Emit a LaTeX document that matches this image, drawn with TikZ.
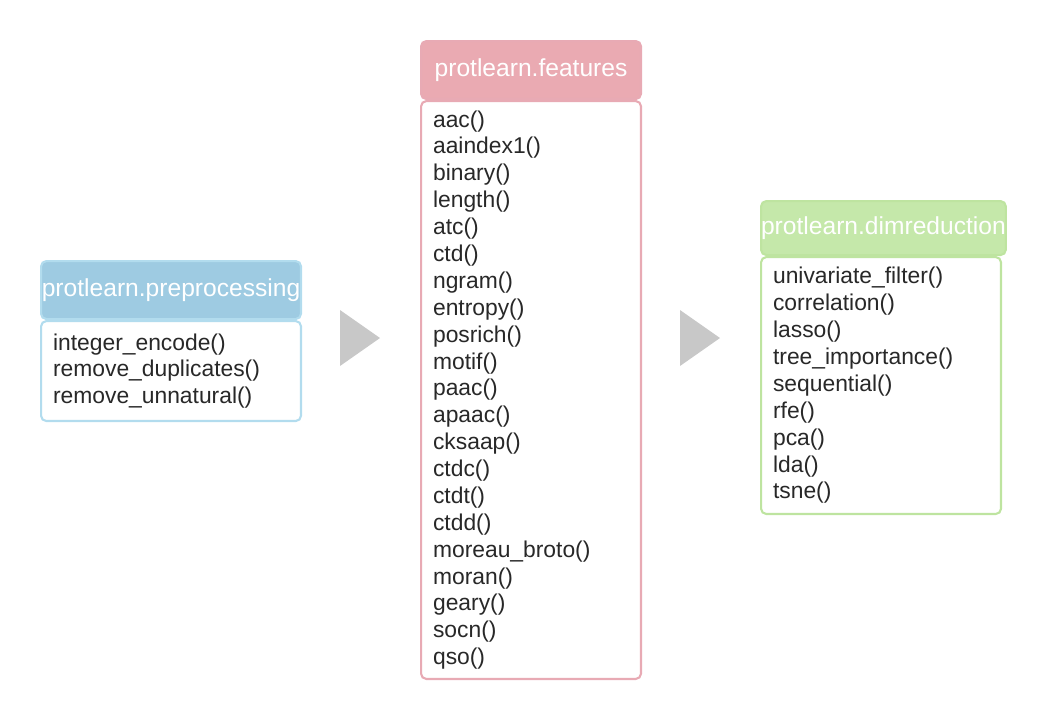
\documentclass[tikz,border=0pt]{standalone}
\usepackage{fontspec}
\setmainfont{Liberation Sans}
\usetikzlibrary{positioning}
\definecolor{bluehead}{RGB}{158,203,226}
\definecolor{blueline}{RGB}{178,220,238}
\definecolor{redhead}{RGB}{234,170,178}
\definecolor{redline}{RGB}{232,170,180}
\definecolor{greenhead}{RGB}{197,232,170}
\definecolor{greenline}{RGB}{190,228,160}
\definecolor{txt}{RGB}{40,40,40}
\definecolor{arr}{RGB}{200,200,200}
\tikzset{
  head/.style={rectangle, rounded corners=3pt, line width=1.2pt, text=white, font=\fontsize{14}{16}\selectfont, inner sep=0pt, anchor=north west},
  body/.style={rectangle, rounded corners=3pt, line width=1.2pt, fill=white, text=txt, font=\fontsize{13}{15.3}\selectfont, align=left, inner xsep=0.24cm, inner ysep=0pt, anchor=north west},
  flowtip/.style={fill=arr, draw=none}
}
\begin{document}
\begin{tikzpicture}[x=0.02cm, y=-0.02cm]
\useasboundingbox (0,0) rectangle (1040,718);

% preprocessing
\node[head, fill=bluehead, draw=blueline, minimum width=5.2cm, minimum height=1.16cm] (prehead) at (40,260) {protlearn.preprocessing};
\node[body, draw=blueline, text width=4.72cm, minimum height=2cm] (prebody) at (40,320)
  {integer\_encode()\\remove\_duplicates()\\remove\_unnatural()};

% features
\node[head, fill=redhead, draw=redline, minimum width=4.4cm, minimum height=1.16cm] (feahead) at (420,40) {protlearn.features};
\node[body, draw=redline, text width=3.92cm, minimum height=11.56cm] (feabody) at (420,100)
  {aac()\\aaindex1()\\binary()\\length()\\atc()\\ctd()\\ngram()\\entropy()\\posrich()\\motif()\\paac()\\apaac()\\cksaap()\\ctdc()\\ctdt()\\ctdd()\\moreau\_broto()\\moran()\\geary()\\socn()\\qso()};

% dimreduction
\node[head, fill=greenhead, draw=greenline, minimum width=4.8cm, minimum height=1.08cm] (dimhead) at (760,200) {protlearn.dimreduction};
\node[body, draw=greenline, text width=4.32cm, minimum height=5.14cm] (dimbody) at (760,256)
  {univariate\_filter()\\correlation()\\lasso()\\tree\_importance()\\sequential()\\rfe()\\pca()\\lda()\\tsne()};

% arrows
\coordinate (s1) at (340,310);
\coordinate (s2) at (680,310);
\fill[flowtip] (s1) -- ++(0,56) -- ++(40,-28) -- cycle;
\fill[flowtip] (s2) -- ++(0,56) -- ++(40,-28) -- cycle;
\end{tikzpicture}
\end{document}
